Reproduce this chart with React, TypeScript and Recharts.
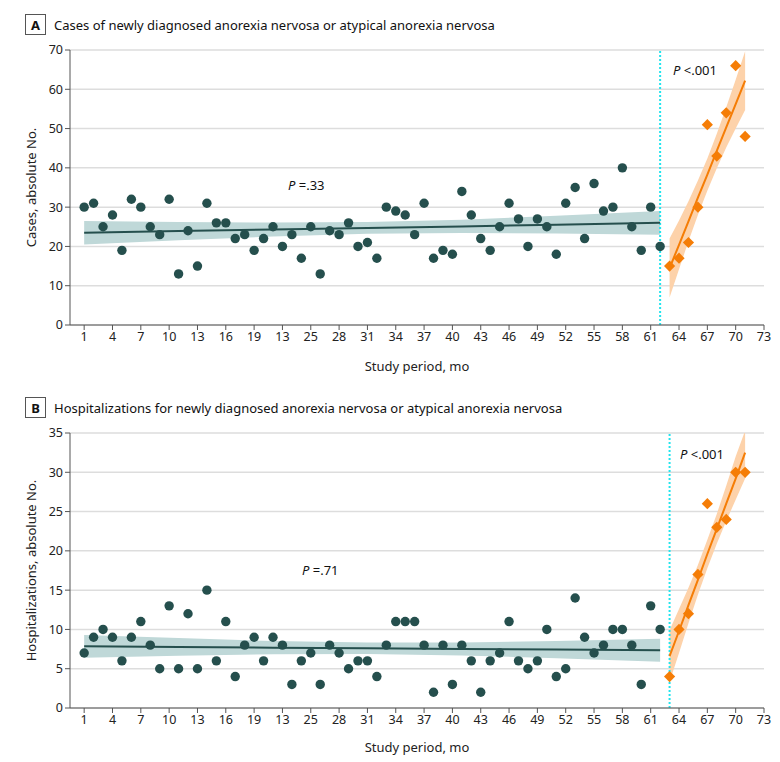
import React from 'react'
import { ComposedChart, Scatter, Line, Area, XAxis, YAxis, CartesianGrid, ReferenceLine } from 'recharts'

// study months before / after the break
const preMonths = [1, 2, 3, 4, 5, 6, 7, 8, 9, 10, 11, 12, 13, 14, 15, 16, 17, 18, 19, 20, 21, 22, 23, 24, 25, 26, 27, 28, 29, 30, 31, 32, 33, 34, 35, 36, 37, 38, 39, 40, 41, 42, 43, 44, 45, 46, 47, 48, 49, 50, 51, 52, 53, 54, 55, 56, 57, 58, 59, 60, 61, 62]
const postMonths = [63, 64, 65, 66, 67, 68, 69, 70, 71]

const casesPre = [30, 31, 25, 28, 19, 32, 30, 25, 23, 32, 13, 24, 15, 31, 26, 26, 22, 23, 19, 22, 25, 20, 23, 17, 25, 13, 24, 23, 26, 20, 21, 17, 30, 29, 28, 23, 31, 17, 19, 18, 34, 28, 22, 19, 25, 31, 27, 20, 27, 25, 18, 31, 35, 22, 36, 29, 30, 40, 25, 19, 30, 20]
const casesPost = [15, 17, 21, 30, 51, 43, 54, 66, 48]

const hospPre = [7, 9, 10, 9, 6, 9, 11, 8, 5, 13, 5, 12, 5, 15, 6, 11, 4, 8, 9, 6, 9, 8, 3, 6, 7, 3, 8, 7, 5, 6, 6, 4, 8, 11, 11, 11, 8, 2, 8, 3, 8, 6, 2, 6, 7, 11, 6, 5, 6, 10, 4, 5, 14, 9, 7, 8, 10, 10, 8, 3, 13, 10]
const hospPost = [4, 10, 12, 17, 26, 23, 24, 30, 30]

// fitted trends and 95% bands
const preTrendX = [1, 11, 21, 31, 41, 51, 62]
const casesPreFit = [23.5, 23.9, 24.3, 24.7, 25.1, 25.5, 26.0]
const casesPreLo = [20.5, 21.6, 22.5, 23.2, 23.4, 23.3, 23.0]
const casesPreHi = [26.5, 26.2, 26.1, 26.2, 26.8, 27.8, 29.0]
const hospPreFit = [7.85, 7.77, 7.68, 7.6, 7.52, 7.43, 7.35]
const hospPreLo = [6.4, 6.65, 6.83, 6.87, 6.69, 6.34, 5.9]
const hospPreHi = [9.3, 8.9, 8.53, 8.33, 8.35, 8.52, 8.8]

const casesPostFit = [14.5, 20.4, 26.4, 32.4, 38.3, 44.3, 50.3, 56.2, 62.2]
const casesPostLo = [7.0, 14.2, 21.3, 28.0, 34.2, 39.9, 45.2, 50.0, 54.7]
const casesPostHi = [22.0, 26.6, 31.5, 36.8, 42.4, 48.7, 55.4, 62.4, 69.7]
const hospPostFit = [6.6, 9.8, 13.1, 16.3, 19.6, 22.8, 26.0, 29.2, 32.5]
const hospPostLo = [3.3, 7.0, 10.8, 14.4, 17.8, 20.9, 23.8, 26.5, 29.2]
const hospPostHi = [9.9, 12.6, 15.3, 18.2, 21.4, 24.7, 28.3, 32.0, 35.3]

const xTicks = [1, 4, 7, 10, 13, 16, 19, 22, 25, 28, 31, 34, 37, 40, 43, 46, 49, 52, 55, 58, 61, 64, 67, 70, 73]
const xTickLabels = ['1', '4', '7', '10', '13', '16', '19', '13', '25', '28', '31', '34', '37', '40', '43', '46', '49', '52', '55', '58', '61', '64', '67', '70', '73']

const TEAL = '#254f4d'
const TEAL_BAND = '#bfd8d8'
const ORANGE = '#f57d06'
const ORANGE_BAND = '#fdd2aa'
const CYAN = '#22e4ee'
const FONT = '"Noto Sans", sans-serif'
const TXT = 13

const pts = (xs: number[], ys: number[]) => xs.map((x, i) => ({ x, y: ys[i] }))
const band = (xs: number[], fit: number[], lo: number[], hi: number[]) =>
  xs.map((x, i) => ({ x, fit: fit[i], band: [lo[i], hi[i]] }))

const Dot = (p: any) => <circle cx={p.cx} cy={p.cy} r={4.7} fill={TEAL} />
const Diamond = (p: any) => {
  const s = 5.6
  return <path d={`M${p.cx},${p.cy - s}L${p.cx + s},${p.cy}L${p.cx},${p.cy + s}L${p.cx - s},${p.cy}Z`} fill={ORANGE} />
}

function Panel({
  letter, title, yLabel, yMax, yTicks, pre, post, preBand, postBand, breakX, pPre, pPost, marginTop,
}: {
  letter: string; title: string; yLabel: string; yMax: number; yTicks: number[]
  pre: any[]; post: any[]; preBand: any[]; postBand: any[]; breakX: number
  pPre: { x: number; y: number; text: string }; pPost: { x: number; y: number; text: string }
  marginTop: number
}) {
  return (
    <div style={{ position: 'relative', width: 780, height: 381, fontFamily: FONT }}>
      <div style={{ position: 'absolute', left: 25, top: marginTop - 36, display: 'flex', alignItems: 'center', fontSize: TXT, color: '#111' }}>
        <span style={{ border: '1px solid #555', width: 19, height: 19, display: 'inline-flex', alignItems: 'center', justifyContent: 'center', fontWeight: 700, fontSize: 13, marginRight: 8 }}>{letter}</span>
        <span>{title}</span>
      </div>
      <ComposedChart width={780} height={381} margin={{ top: marginTop, right: 16, bottom: 0, left: 20 }} style={{ fontFamily: FONT }}>
        <CartesianGrid horizontal vertical={false} stroke="#dddddd" strokeWidth={1.5} />
        <XAxis
          type="number" dataKey="x" domain={[-0.5, 73]} ticks={xTicks} interval={0} allowDataOverflow
          tickFormatter={(_v: number, i: number) => xTickLabels[i]}
          height={381 - marginTop - 275} tickSize={5}
          axisLine={{ stroke: '#555' }} tickLine={{ stroke: '#555' }}
          tick={{ fill: '#222', fontSize: 12.5 }}
          label={{ value: 'Study period, mo', position: 'insideBottom', offset: 10, fill: '#222', fontSize: TXT }}
        />
        <YAxis
          type="number" domain={[0, yMax]} ticks={yTicks} interval={0} allowDataOverflow width={50} tickSize={5}
          axisLine={{ stroke: '#555' }} tickLine={{ stroke: '#555' }}
          tick={{ fill: '#222', fontSize: 12.5 }}
          label={{ value: yLabel, angle: -90, position: 'insideLeft', offset: 11, fill: '#222', fontSize: TXT, style: { textAnchor: 'middle' } }}
        />
        <Area data={preBand} dataKey="band" type="linear" stroke="none" fill={TEAL_BAND} fillOpacity={1} isAnimationActive={false} />
        <Area data={postBand} dataKey="band" type="linear" stroke="none" fill={ORANGE_BAND} fillOpacity={1} isAnimationActive={false} />
        <ReferenceLine x={breakX} stroke={CYAN} strokeWidth={2} strokeDasharray="2 2" />
        <Line data={preBand} dataKey="fit" type="linear" stroke={TEAL} strokeWidth={2} dot={false} isAnimationActive={false} />
        <Line data={postBand} dataKey="fit" type="linear" stroke={ORANGE} strokeWidth={2} dot={false} isAnimationActive={false} />
        <Scatter data={pre} dataKey="y" shape={Dot} isAnimationActive={false} />
        <Scatter data={post} dataKey="y" shape={Diamond} isAnimationActive={false} />
      </ComposedChart>
      {[pPre, pPost].map((p, i) => (
        <div key={i} style={{ position: 'absolute', left: p.x, top: p.y - 10, fontSize: TXT, color: '#111', whiteSpace: 'nowrap' }}>
          <i>P</i> {p.text}
        </div>
      ))}
    </div>
  )
}

export default function App() {
  return (
    <div style={{ position: 'absolute', left: 0, top: 0, width: 780, height: 762, background: '#fff' }}>
      <Panel
        letter="A" title="Cases of newly diagnosed anorexia nervosa or atypical anorexia nervosa"
        yLabel="Cases, absolute No." yMax={70} yTicks={[0, 10, 20, 30, 40, 50, 60, 70]}
        pre={pts(preMonths, casesPre)} post={pts(postMonths, casesPost)}
        preBand={band(preTrendX, casesPreFit, casesPreLo, casesPreHi)}
        postBand={band(postMonths, casesPostFit, casesPostLo, casesPostHi)}
        breakX={62} pPre={{ x: 288, y: 186, text: '=.33' }} pPost={{ x: 673, y: 71, text: '<.001' }}
        marginTop={50}
      />
      <Panel
        letter="B" title="Hospitalizations for newly diagnosed anorexia nervosa or atypical anorexia nervosa"
        yLabel="Hospitalizations, absolute No." yMax={35} yTicks={[0, 5, 10, 15, 20, 25, 30, 35]}
        pre={pts(preMonths, hospPre)} post={pts(postMonths, hospPost)}
        preBand={band(preTrendX, hospPreFit, hospPreLo, hospPreHi)}
        postBand={band(postMonths, hospPostFit, hospPostLo, hospPostHi)}
        breakX={63} pPre={{ x: 302, y: 190, text: '=.71' }} pPost={{ x: 680, y: 74, text: '<.001' }}
        marginTop={52}
      />
    </div>
  )
}
